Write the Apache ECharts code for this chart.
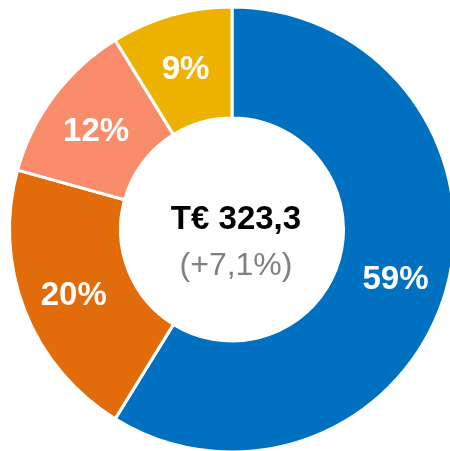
<!DOCTYPE html>
<html><head><meta charset="utf-8">
<script src="https://cdn.jsdelivr.net/npm/echarts@6/dist/echarts.min.js"></script>
<style>html,body{margin:0;padding:0;background:#fff}#c{width:450px;height:451px}</style>
</head><body><div id="c"></div>
<script>
const categories = ['A', 'B', 'C', 'D'];
const values = [58.8, 20.5, 11.9, 8.8];
const labels = ['59%', '20%', '12%', '9%'];
const colors = ['#0070C0', '#E36C0A', '#F98C6B', '#EDB200'];
const centerTitle = 'T€ 323,3';
const centerSub = '(+7,1%)';

const chart = echarts.init(document.getElementById('c'));
chart.setOption({
  animation: false,
  graphic: [
    {type: 'text', x: 236, y: 220, style: {text: centerTitle, align: 'center', verticalAlign: 'middle',
      font: 'bold 33px "Liberation Sans"', fill: '#000'}},
    {type: 'text', x: 236, y: 266, style: {text: centerSub, align: 'center', verticalAlign: 'middle',
      font: '32px "Liberation Sans"', fill: '#808080'}}
  ],
  series: [{
    type: 'pie',
    center: [232, 229.5],
    radius: [111.5, 222.5],
    startAngle: 90,
    clockwise: true,
    data: categories.map((n, i) => ({name: n, value: values[i], itemStyle: {color: colors[i]}, label: {formatter: labels[i]}})),
    itemStyle: {borderColor: '#fff', borderWidth: 3},
    label: {position: 'inside', color: '#fff', fontFamily: 'Liberation Sans', fontSize: 33, fontWeight: 'bold', offset: [0, 4]},
    labelLine: {show: false}
  }]
});
</script></body></html>
